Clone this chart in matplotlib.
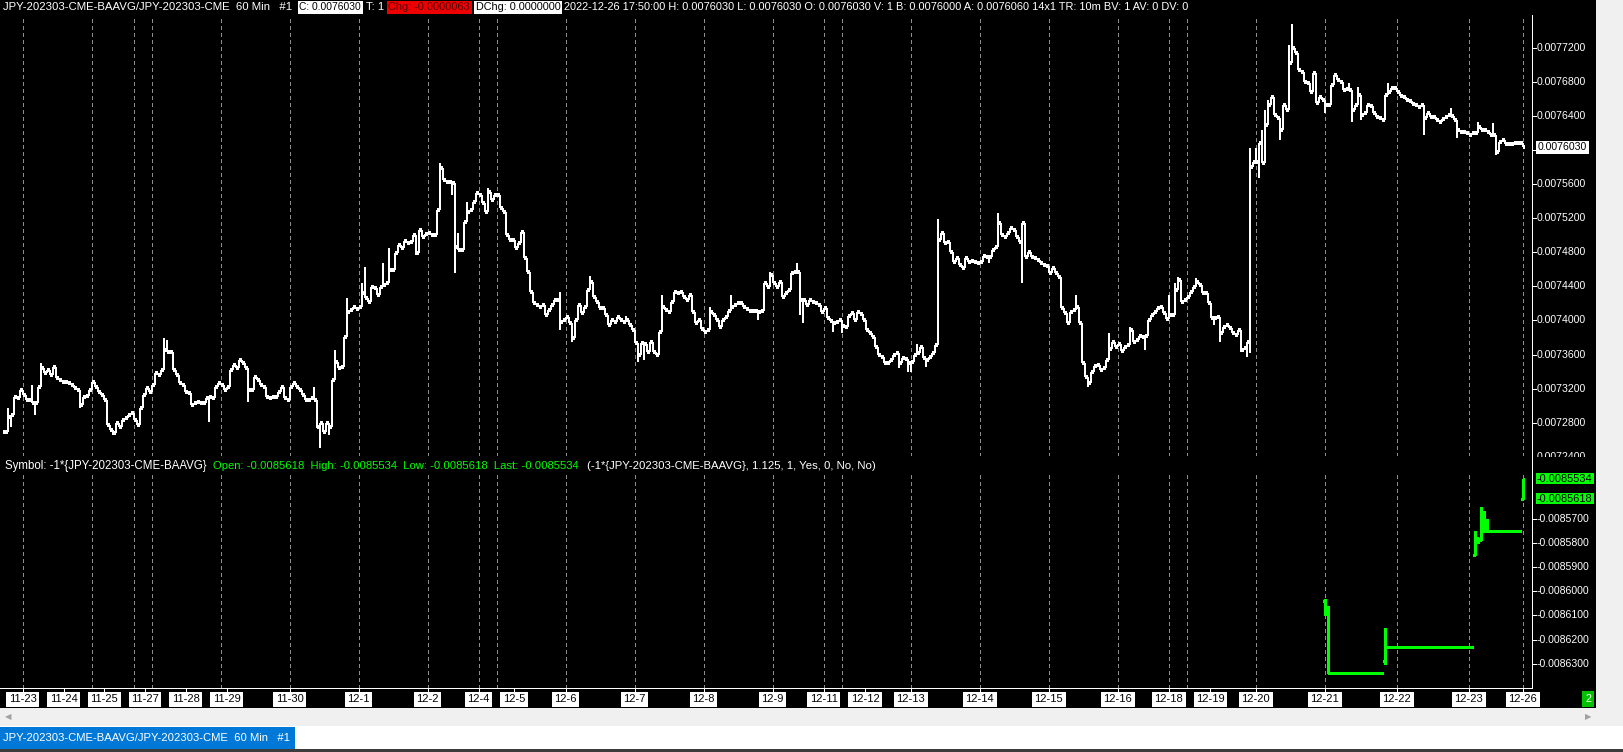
import matplotlib
matplotlib.use('Agg')
import matplotlib.pyplot as plt
from matplotlib.collections import LineCollection
from matplotlib.patches import Rectangle
from matplotlib import font_manager as fm
from matplotlib.transforms import Bbox

W, H, DPI = 1624, 752, 100

# ---------------- data ----------------
title = "JPY-202303-CME-BAAVG/JPY-202303-CME  60 Min   #1"
hdr_close = "C: 0.0076030"
hdr_t = "T: 1"
hdr_chg = "Chg: -0.0000063"
hdr_dchg = "DChg: 0.0000000"
hdr_rest = ("2022-12-26 17:50:00 H: 0.0076030 L: 0.0076030 O: 0.0076030 V: 1 "
            "B: 0.0076000 A: 0.0076060 14x1 TR: 10m BV: 1 AV: 0 DV: 0")
sub_symbol = "Symbol: -1*{JPY-202303-CME-BAAVG}"
sub_ohlc = "Open: -0.0085618  High: -0.0085534  Low: -0.0085618  Last: -0.0085534"
sub_args = "(-1*{JPY-202303-CME-BAAVG}, 1.125, 1, Yes, 0, No, No)"

# trading days (labels) and number of 60-min bars in each
pre_bars = 6
day_labels = ['11-23', '11-24', '11-25', '11-27', '11-28', '11-29', '11-30', '12-1',
              '12-2', '12-4', '12-5', '12-6', '12-7', '12-8', '12-9', '12-11', '12-12',
              '12-13', '12-14', '12-15', '12-16', '12-18', '12-19', '12-20', '12-21',
              '12-22', '12-23', '12-26']
day_bars = [12, 11, 14, 6, 23, 23, 23, 23, 17, 6, 23, 23, 23, 23, 17, 6, 23,
            23, 23, 23, 17, 6, 23, 23, 24, 24, 18, 1]
grid_skip = ['11-24']

# main series closes, in units of 1e-7
close_e7 = [
    72695, 72871, 72891, 73106, 73086, 73184, 73125, 73067, 73067, 73028,
    73028, 73223, 73438, 73379, 73418, 73360, 73458, 73321, 73301, 73282,
    73282, 73262, 73243, 73203, 73184, 73008, 73106, 73113, 73184, 73282,
    73223, 73164, 73125, 73067, 72773, 72715, 72676, 72793, 72754, 72832,
    72852, 72891, 72910, 72832, 72773, 72969, 73125, 73203, 73164, 73243,
    73379, 73360, 73418, 73653, 73634, 73634, 73418, 73360, 73262, 73243,
    73164, 73145, 73008, 73028, 73047, 73028, 73028, 73086, 73106, 73086,
    73223, 73262, 73243, 73184, 73223, 73418, 73477, 73438, 73536, 73497,
    73438, 73184, 73184, 73340, 73301, 73243, 73223, 73106, 73086, 73106,
    73106, 73164, 73223, 73086, 73067, 73223, 73262, 73223, 73184, 73125,
    73067, 73067, 73087, 73067, 72754, 72793, 72696, 72793, 72754, 73302,
    73517, 73439, 73458, 73810, 74103, 74123, 74162, 74130, 74162, 74318,
    74260, 74220, 74389, 74377, 74299, 74396, 74416, 74435, 74592, 74592,
    74787, 74885, 74846, 74936, 74905, 74924, 75002, 74787, 75061, 74983,
    75014, 75022, 75002, 75002, 75296, 75784, 75648, 75628, 75628, 75609,
    74858, 74827, 74827, 75159, 75276, 75296, 75393, 75491, 75472, 75374,
    75276, 75511, 75413, 75472, 75472, 75315, 75276, 75002, 74944, 74944,
    74846, 74905, 75042, 74729, 74572, 74338, 74201, 74181, 74162, 74181,
    74064, 74123, 74181, 74240, 74240, 73986, 74005, 74044, 73966, 73790,
    74005, 74181, 74084, 74162, 74357, 74455, 74279, 74220, 74142, 74142,
    74064, 73947, 74005, 73986, 74044, 74005, 73986, 74005, 73947, 73888,
    73732, 73595, 73732, 73724, 73634, 73751, 73634, 73595, 73869, 74162,
    74123, 74103, 74220, 74338, 74318, 74338, 74271, 74240, 74299, 74103,
    73966, 74005, 73896, 73869, 73888, 74103, 74064, 74005, 73919, 74005,
    74044, 74115, 74162, 74181, 74201, 74201, 74154, 74130, 74115, 74111,
    74111, 74103, 74115, 74435, 74396, 74533, 74435, 74396, 74455, 74279,
    74318, 74357, 74553, 74572, 74572, 74240, 74240, 74181, 74240, 74220,
    74201, 74181, 74103, 74142, 74025, 73998, 73974, 73986, 74005, 73935,
    73919, 74052, 74083, 74005, 74103, 74076, 74005, 73888, 73857, 73810,
    73685, 73595, 73575, 73497, 73497, 73536, 73595, 73615, 73497, 73556,
    73544, 73497, 73517, 73595, 73615, 73685, 73556, 73536, 73575, 73614,
    73712, 74944, 75022, 74905, 74924, 74807, 74690, 74729, 74651, 74612,
    74729, 74690, 74701, 74690, 74670, 74690, 74756, 74748, 74748, 74827,
    74866, 75139, 75002, 74983, 75022, 75081, 75061, 74983, 74924, 75139,
    74748, 74807, 74748, 74729, 74709, 74670, 74651, 74639, 74553, 74612,
    74553, 74514, 74142, 74084, 73966, 74103, 74123, 74162, 73966, 73497,
    73341, 73262, 73399, 73466, 73478, 73419, 73438, 73536, 73661, 73751,
    73693, 73724, 73646, 73693, 73712, 73888, 73751, 73771, 73818, 73810,
    73818, 74006, 74064, 74103, 74142, 74162, 74092, 74013, 74064, 74064,
    74357, 74475, 74221, 74240, 74271, 74338, 74397, 74455, 74416, 74318,
    74318, 74201, 74025, 74025, 74044, 73849, 73927, 73947, 73908, 73849,
    73829, 73888, 73653, 73673, 73751, 75804, 75863, 75863, 76078, 75843,
    76293, 76527, 76625, 76410, 76371, 76234, 76527, 76469, 77016, 77192,
    77133, 76938, 76918, 76801, 76781, 76684, 76899, 76547, 76625, 76586,
    76527, 76527, 76762, 76879, 76821, 76801, 76703, 76715, 76703, 76469,
    76527, 76645, 76410, 76430, 76527, 76519, 76430, 76391, 76379, 76351,
    76645, 76684, 76731, 76723, 76684, 76637, 76625, 76586, 76574, 76539,
    76527, 76508, 76527, 76379, 76430, 76391, 76391, 76351, 76332, 76363,
    76391, 76410, 76402, 76351, 76234, 76215, 76215, 76195, 76175, 76195,
    76195, 76273, 76234, 76234, 76215, 76175, 76175, 75980, 76097, 76116,
    76069, 76069, 76069, 76077, 76085, 76085, 76030,
]
# bars whose high / low reach beyond their open and close: bar -> (high, low), 1e-7 units
wick_e7 = {
    1: (72969, 72754), 2: (72891, 72754), 9: (73243, 73028), 10: (73028, 72891),
    12: (73497, 73223), 25: (73184, 72969), 36: (72715, 72656), 53: (73790, 73418),
    54: (73770, 73634), 68: (73106, 72812), 81: (73438, 73047), 103: (73223, 73067),
    104: (73067, 72734), 105: (72793, 72500), 108: (72793, 72656), 110: (73654, 73302),
    114: (74260, 73810), 119: (74435, 74162), 120: (74631, 74260), 126: (74670, 74396),
    128: (74846, 74435), 137: (74924, 74768), 145: (75843, 75296), 149: (75628, 75472),
    150: (75609, 74553), 151: (75022, 74827), 154: (75393, 75159), 161: (75550, 75276),
    185: (74338, 73888), 189: (73966, 73751), 195: (74521, 74357), 207: (74052, 73986),
    211: (73732, 73517), 213: (73732, 73536), 219: (74299, 73869), 235: (74162, 73888),
    242: (74299, 74115), 251: (74111, 74005), 255: (74572, 74396), 264: (74678, 74572),
    265: (74572, 74064), 266: (74240, 73974), 276: (73998, 73869), 279: (74005, 73857),
    298: (73615, 73438), 301: (73544, 73399), 302: (73517, 73399), 304: (73724, 73595),
    307: (73556, 73458), 311: (75186, 73712), 328: (74748, 74670), 331: (75257, 74866),
    339: (75139, 74436), 350: (74612, 74553), 357: (74299, 74123), 361: (73341, 73223),
    368: (73857, 73536), 375: (73927, 73712), 380: (73818, 73654), 388: (74299, 74013),
    390: (74436, 74064), 391: (74506, 74357), 397: (74502, 74397), 403: (74025, 73947),
    405: (74044, 73751), 412: (73888, 73634), 414: (73751, 73575), 415: (76019, 73615),
    417: (76019, 75863), 418: (76078, 75667), 419: (76234, 75843), 420: (76469, 75843),
    421: (76586, 76293), 423: (76625, 76410), 425: (76371, 76117), 428: (77231, 76469),
    429: (77474, 77016), 433: (76860, 76801), 440: (76586, 76430), 448: (76781, 76703),
    449: (76703, 76332), 451: (76742, 76527), 452: (76645, 76351), 461: (76781, 76645),
    473: (76527, 76175), 482: (76488, 76402), 484: (76351, 76136), 491: (76324, 76195),
    496: (76312, 76175), 497: (76175, 75940),
}
last_price = 0.0076030

# lower study: -1*{JPY-202303-CME-BAAVG}, bars from the first bar of 12-21 onward
lower_first_day = '12-21'
lower_close = [
    -0.0086080, -0.0086340,
    -0.0086340, -0.0086340, -0.0086340, -0.0086340, -0.0086340, -0.0086340,
    -0.0086340, -0.0086340, -0.0086340, -0.0086340, -0.0086340, -0.0086340,
    -0.0086340, -0.0086340, -0.0086340, -0.0086340, -0.0086340, -0.0086340,
    -0.0086230,
    -0.0086230, -0.0086230, -0.0086230, -0.0086230, -0.0086230, -0.0086230,
    -0.0086230, -0.0086230, -0.0086230, -0.0086230, -0.0086230, -0.0086230,
    -0.0086230, -0.0086230, -0.0086230, -0.0086230, -0.0086230, -0.0086230,
    -0.0086230, -0.0086230, -0.0086230, -0.0086230, -0.0086230, -0.0086230,
    -0.0086230, -0.0086230, -0.0086230, -0.0086230, -0.0086230,
    -0.0085780, -0.0085790, -0.0085750, -0.0085750, -0.0085750,
    -0.0085750, -0.0085750, -0.0085750, -0.0085750, -0.0085750, -0.0085750,
    -0.0085750, -0.0085750, -0.0085750, -0.0085750, -0.0085750,
    -0.0085534,
]
# bars with a range: offset -> (open, high, low, close)
lower_ohlc = {
    0: (-0.0086040, -0.0086030, -0.0086100, -0.0086080),
    1: (-0.0086080, -0.0086060, -0.0086340, -0.0086340),
    20: (-0.0086290, -0.0086150, -0.0086300, -0.0086230),
    50: (-0.0085850, -0.0085750, -0.0085850, -0.0085780),
    51: (-0.0085780, -0.0085780, -0.0085800, -0.0085790),
    52: (-0.0085790, -0.0085650, -0.0085790, -0.0085750),
    53: (-0.0085750, -0.0085670, -0.0085750, -0.0085750),
    54: (-0.0085750, -0.0085700, -0.0085750, -0.0085750),
    66: (-0.0085618, -0.0085534, -0.0085618, -0.0085534),
}
lower_marks = [-0.0085534, -0.0085618]

main_ticks = [0.00724 + 0.00004 * k for k in range(13)]
lower_ticks = [-0.00857 - 0.00001 * k for k in range(7)]

# ---------------- fonts ----------------
names = {f.name for f in fm.fontManager.ttflist}
UI = 'Liberation Sans Narrow' if 'Liberation Sans Narrow' in names else 'Liberation Sans'
plt.rcParams['font.family'] = [UI, 'DejaVu Sans']

fig = plt.figure(figsize=(W / DPI, H / DPI), dpi=DPI, facecolor='#f0f0f0')
renderer = fig.canvas.get_renderer()


def fx(x):
    return x / W


def fy(y):
    return 1 - y / H


def text_w(s, fs):
    t = fig.text(0, 0, s, fontsize=fs)
    w = t.get_window_extent(renderer).width
    t.remove()
    return w


def fit(s, width, base=10.0):
    """font size that makes text s as wide as in the reference"""
    return base * width / text_w(s, base)


fs_lab = fit("0.0077200", 50.0)


def rect(x0, y0, x1, y1, color, z=-5):
    fig.patches.append(Rectangle((fx(x0), fy(y1)), (x1 - x0) / W, (y1 - y0) / H,
                                 transform=fig.transFigure, facecolor=color,
                                 edgecolor='none', zorder=z))


def hline(x0, x1, y, color, z=5):
    fig.add_artist(plt.Line2D([fx(x0), fx(x1)], [fy(y), fy(y)], color=color,
                              lw=0.72, transform=fig.transFigure, zorder=z,
                              antialiased=False))


def vline(x, y0, y1, color, z=5):
    fig.add_artist(plt.Line2D([fx(x), fx(x)], [fy(y0), fy(y1)], color=color,
                              lw=0.72, transform=fig.transFigure, zorder=z,
                              antialiased=False))


# backgrounds
rect(0, 0, 1596, 708, 'black', z=-6)
rect(0, 708, 1598, 726, '#f0f0f0')
rect(0, 726, W, 749, '#ffffff')
rect(0, 749, W, H, '#3c3c3c')

# ---------------- axes ----------------
PLOT_R = 1532
ax = fig.add_axes([0, fy(456), fx(PLOT_R), (456 - 15) / H])
ax2 = fig.add_axes([0, fy(688), fx(PLOT_R), (688 - 473) / H], sharex=ax)
for a in (ax, ax2):
    a.set_facecolor('black')
    for s in a.spines.values():
        s.set_visible(False)
    a.tick_params(left=False, bottom=False, labelleft=False, labelbottom=False)

# bar index of each day start
starts = []
pos = pre_bars
for n in day_bars:
    starts.append(pos)
    pos += n
x0_px, step_px = 4.7, 3.0
ax.set_xlim(-x0_px / step_px, (PLOT_R - x0_px) / step_px)

# main OHLC
closes = [v * 1e-7 for v in close_e7]
opens = [closes[0]] + closes[:-1]
highs, lows = [], []
for i, (o, c) in enumerate(zip(opens, closes)):
    hi, lo = max(o, c), min(o, c)
    if i in wick_e7:
        hi = max(hi, wick_e7[i][0] * 1e-7)
        lo = min(lo, wick_e7[i][1] * 1e-7)
    highs.append(hi)
    lows.append(lo)


def draw_ohlc(a, xs, o, h, l, c, color, tw, vlw, tlw):
    v = [((x, lo), (x, hi)) for x, lo, hi in zip(xs, l, h)]
    t = [((x - tw, oo), (x, oo)) for x, oo in zip(xs, o)] + \
        [((x, cc), (x + tw, cc)) for x, cc in zip(xs, c)]
    a.add_collection(LineCollection(v, colors=color, linewidths=vlw,
                                    antialiased=False, zorder=3))
    a.add_collection(LineCollection(t, colors=color, linewidths=tlw,
                                    antialiased=False, zorder=3))


xs = list(range(len(closes)))
draw_ohlc(ax, xs, opens, highs, lows, closes, 'white', 0.62, 1.1, 1.6)
ax.set_ylim(0.0072410, 0.0077583)

# lower study bars
lstart = starts[day_labels.index(lower_first_day)]
lo_o, lo_h, lo_l, lo_c, lxs = [], [], [], [], []
for k, c in enumerate(lower_close):
    if k in lower_ohlc:
        o, h, l, c = lower_ohlc[k]
    else:
        o = h = l = c
    lxs.append(lstart + k)
    lo_o.append(o); lo_h.append(h); lo_l.append(l); lo_c.append(c)
draw_ohlc(ax2, lxs, lo_o, lo_h, lo_l, lo_c, '#00ff00', 0.55, 1.0, 2.0)
ax2.set_ylim(-0.0086400, -0.0085511)

# dashed day separators
for lab, s in zip(day_labels, starts):
    if lab in grid_skip:
        continue
    for a in (ax, ax2):
        a.axvline(s, color='#8c8c8c', lw=0.72, ls=(0, (3, 3)), zorder=1,
                  antialiased=False)

# axis frame lines
vline(PLOT_R, 15, 688, 'white')
hline(0, PLOT_R, 688, 'white')

# ---------------- right scale labels ----------------
inv = fig.transFigure.inverted()
clip_main = Bbox.from_extents(PLOT_R, H - 457, 1600, H - 14)
for v in main_ticks:
    yp = inv.transform(ax.transData.transform((0, v)))[1]
    t = fig.text(fx(1537), yp, f"{v:.7f}", color='white', fontsize=fs_lab,
                 va='center', ha='left', zorder=6)
    t.set_clip_box(clip_main)
    t.set_clip_on(True)
    if 0.0072410 <= v <= 0.0077583:
        fig.add_artist(plt.Line2D([fx(PLOT_R), fx(1536)], [yp, yp], color='white',
                                  lw=0.72, transform=fig.transFigure, zorder=6))

yp = inv.transform(ax.transData.transform((0, last_price)))[1]
yy = (1 - yp) * H
rect(1536, yy - 6.5, 1589, yy + 6.5, 'white', z=7)
fig.text(fx(1537.5), yp, f"{last_price:.7f}", color='black', fontsize=fs_lab,
         va='center', ha='left', zorder=8)

for v in lower_ticks:
    yp = inv.transform(ax2.transData.transform((0, v)))[1]
    fig.text(fx(1536.5), yp, f"{v:.7f}", color='white', fontsize=fs_lab,
             va='center', ha='left', zorder=6)
    fig.add_artist(plt.Line2D([fx(PLOT_R), fx(1536)], [yp, yp], color='white',
                              lw=0.72, transform=fig.transFigure, zorder=6))
fs_mark = fit("-0.0085534", 56.0)
for v in lower_marks:
    yp = inv.transform(ax2.transData.transform((0, v)))[1]
    yy = (1 - yp) * H
    rect(1536, yy - 5.5, 1594, yy + 5.5, '#00ff00', z=7)
    fig.text(fx(1537), yp, f"{v:.7f}", color='black', fontsize=fs_mark,
             va='center', ha='left', zorder=8)

# ---------------- date labels ----------------
prev_right = -1e9
gap = 8
for lab, s in zip(day_labels, starts):
    xpix = x0_px + step_px * s
    t = fig.text(0, fy(699.5), lab, color='black', fontsize=fs_lab * 1.05, ha='center',
                 va='center', zorder=9)
    w = t.get_window_extent(renderer).width + 5
    cx = max(xpix, prev_right + gap + w / 2)
    t.set_x(fx(cx))
    rect(cx - w / 2, 691.5, cx + w / 2, 707, 'white', z=8)
    vline(cx, 688, 691.5, 'white')
    prev_right = cx + w / 2

# ---------------- header texts ----------------
yh = fy(7.5)


def htext(x, s, width, color, z=3):
    fig.text(fx(x), yh, s, color=color, fontsize=fit(s, width), va='center',
             ha='left', zorder=z)


htext(3, title, 291, 'white')
rect(298, 1, 363, 14, 'white', z=1)
htext(299.5, hdr_close, 62, 'black')
htext(366, hdr_t, 18, 'white')
rect(387, 1, 472, 14, '#ee0000', z=1)
htext(388.5, hdr_chg, 82, '#5a0000')
rect(474, 1, 562, 14, 'white', z=1)
htext(475.5, hdr_dchg, 85, 'black')
htext(564, hdr_rest, 624, 'white')

ys = fy(466)
fig.text(fx(5), ys, sub_symbol, color='white', fontsize=fit(sub_symbol, 202),
         va='center', ha='left')
fig.text(fx(213), ys, sub_ohlc, color='#00ff00', fontsize=fit(sub_ohlc, 364),
         va='center', ha='left')
fig.text(fx(587), ys, sub_args, color='white', fontsize=fit(sub_args, 288),
         va='center', ha='left')

# scrollbar arrows, tab, page number
fig.text(fx(8), fy(717), '◀', color='#a0a0a0', fontsize=6, va='center', ha='center',
         family='DejaVu Sans')
fig.text(fx(1588), fy(717), '▶', color='#a0a0a0', fontsize=6, va='center', ha='center',
         family='DejaVu Sans')
rect(0, 727, 295, 748.5, '#0078d7', z=1)
fig.text(fx(3), fy(738), title, color='white', fontsize=fit(title, 287), va='center',
         ha='left', zorder=2)
rect(1582, 691, 1594, 707, '#00c000', z=8)
fig.text(fx(1588), fy(699.5), '2', color='white', fontsize=fs_lab, va='center',
         ha='center', zorder=9)

fig.savefig('out.png', dpi=DPI, facecolor=fig.get_facecolor())
